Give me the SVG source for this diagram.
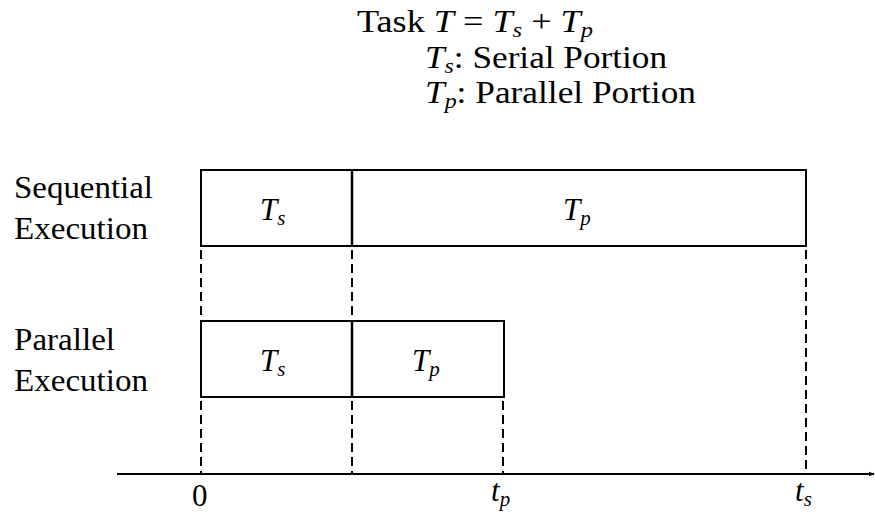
<svg xmlns="http://www.w3.org/2000/svg" width="875" height="515" viewBox="0 0 875 515">
<defs>
<style>
text{fill:#000;font-size:31px}
.m{font-style:italic}
.sub{font-size:21px;font-style:italic}
.box{fill:#fff;stroke:#000;stroke-width:2}
.div{stroke:#000;stroke-width:2.5}
.dash{stroke:#000;stroke-width:2;stroke-dasharray:9 5;fill:none}
.axis{stroke:#000;stroke-width:2;fill:none}
</style>
<marker id="arr" viewBox="0 0 10 10" refX="9" refY="5" markerWidth="6" markerHeight="6" orient="auto" markerUnits="userSpaceOnUse">
<path d="M0,1 L10,5 L0,9 z" fill="#000"/>
</marker>
</defs>
<rect width="875" height="515" fill="#fff"/>
<g font-family="Liberation Serif, DejaVu Serif, serif">
<g id="legend">
<text x="357" y="32" textLength="236" lengthAdjust="spacingAndGlyphs">Task <tspan class="m">T</tspan> = <tspan class="m">T</tspan><tspan class="sub" dy="5">s</tspan><tspan dy="-5"> + </tspan><tspan class="m">T</tspan><tspan class="sub" dy="5">p</tspan></text>
<text x="425" y="68" textLength="242" lengthAdjust="spacingAndGlyphs"><tspan class="m">T</tspan><tspan class="sub" dy="5">s</tspan><tspan dy="-5">: Serial Portion</tspan></text>
<text x="425" y="103" textLength="271" lengthAdjust="spacingAndGlyphs"><tspan class="m">T</tspan><tspan class="sub" dy="5">p</tspan><tspan dy="-5">: Parallel Portion</tspan></text>
</g>
<g id="label-sequential">
<text x="14" y="198" textLength="139" lengthAdjust="spacingAndGlyphs">Sequential</text>
<text x="14" y="239" textLength="134" lengthAdjust="spacingAndGlyphs">Execution</text>
</g>
<g id="label-parallel">
<text x="14" y="350" textLength="101" lengthAdjust="spacingAndGlyphs">Parallel</text>
<text x="14" y="391" textLength="134" lengthAdjust="spacingAndGlyphs">Execution</text>
</g>
<g id="seq-box">
<rect class="box" x="201" y="170" width="605" height="76"/>
<line class="div" x1="352" y1="170" x2="352" y2="246"/>
<text x="260" y="220"><tspan class="m">T</tspan><tspan class="sub" dy="5">s</tspan></text>
<text x="563" y="220"><tspan class="m">T</tspan><tspan class="sub" dy="5">p</tspan></text>
</g>
<g id="par-box">
<rect class="box" x="201" y="321" width="303" height="76"/>
<line class="div" x1="352" y1="321" x2="352" y2="397"/>
<text x="260" y="371"><tspan class="m">T</tspan><tspan class="sub" dy="5">s</tspan></text>
<text x="412" y="371"><tspan class="m">T</tspan><tspan class="sub" dy="5">p</tspan></text>
</g>
<g id="connectors">
<line class="dash" x1="201" y1="250" x2="201" y2="321"/>
<line class="dash" x1="352" y1="250" x2="352" y2="321"/>
<line class="dash" x1="201" y1="401" x2="201" y2="474"/>
<line class="dash" x1="352" y1="401" x2="352" y2="474"/>
<line class="dash" x1="503" y1="401" x2="503" y2="474"/>
<line class="dash" x1="806" y1="250" x2="806" y2="474"/>
<line class="axis" x1="117" y1="474" x2="874" y2="474" marker-end="url(#arr)"/>
</g>
<g id="ticks">
<text x="192" y="506">0</text>
<text x="491" y="501" class="m">t<tspan class="sub" dy="5">p</tspan></text>
<text x="795" y="501" class="m">t<tspan class="sub" dy="5">s</tspan></text>
</g>
</g>
</svg>
